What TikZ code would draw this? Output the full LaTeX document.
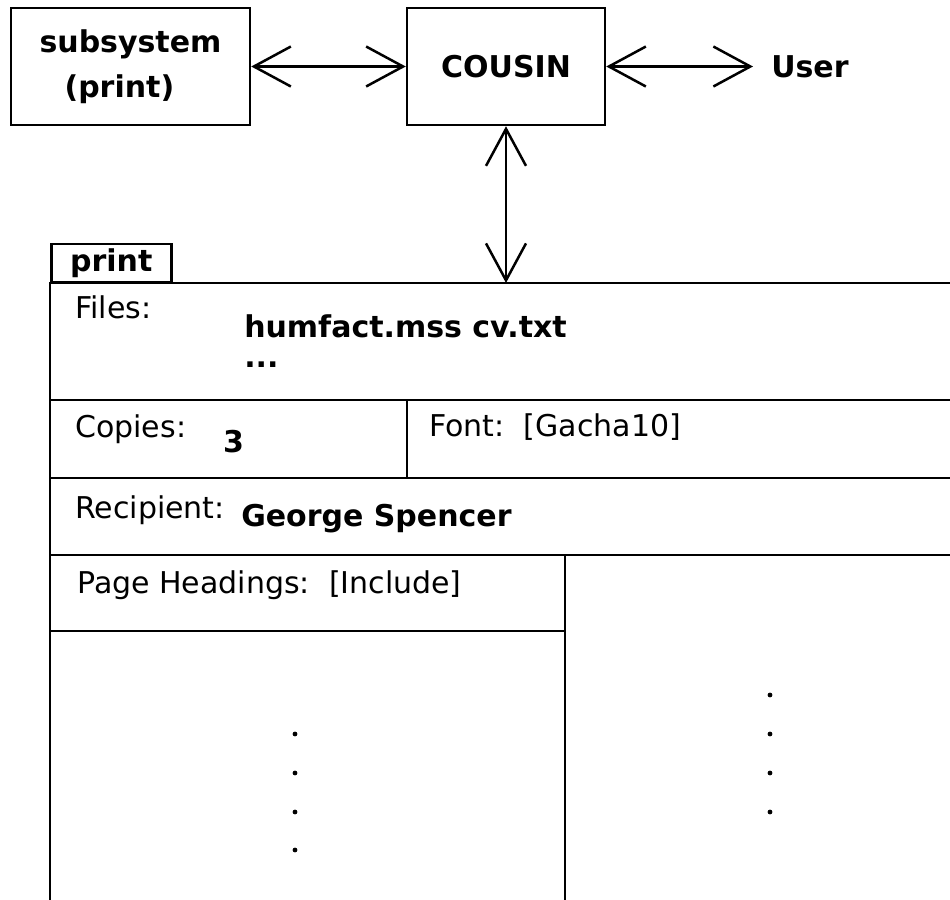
\documentclass[tikz,border=0pt]{standalone}
\usepackage{fontspec}
\setmainfont{DejaVu Sans}
\usetikzlibrary{arrows.meta}

\tikzset{
  fieldname/.style={anchor=base west},
  fieldval/.style={anchor=base west,font=\fontsize{15}{22.5}\selectfont\bfseries},
  topbox/.style={draw,minimum height=58.5pt,font=\fontsize{15}{22.5}\selectfont\bfseries}
}

\begin{document}
\begin{tikzpicture}[x=0.5pt,y=-0.5pt,line width=1.25pt,
  >={Straight Barb[length=18.5pt,width=20pt]},
  every node/.style={inner sep=0pt,font=\fontsize{15}{22.5}\selectfont}]
\useasboundingbox (0,0) rectangle (950,900);

% Top boxes
\node[topbox,minimum width=119.5pt,align=left] (subsys) at (130.5,66.5) {subsystem\\\hspace*{12.5pt}(print)};
\node[topbox,minimum width=99pt] (cousin) at (506,66.5) {COUSIN};
\node[anchor=west,inner xsep=8.5pt,font=\fontsize{15}{22.5}\selectfont\bfseries] (user) at (753,66.5) {User};

% Two-way arrows
\coordinate (formtop) at (506,283);
\draw[<->] (subsys) -- (cousin);
\draw[<->] (cousin) -- (user);
\draw[<->] (cousin.south) -- (formtop);

% Tab
\node[draw,minimum width=60pt,minimum height=19pt,anchor=south west,
  font=\fontsize{15}{22.5}\selectfont\bfseries] (tab) at (50,283) {print};

% Form rules
\draw (50,900) -- (50,283) -- (950,283);
\foreach \y in {400,478,555} {
  \draw (50,\y) -- (950,\y);
}
\draw (50,631) -- (565,631);
\draw (407,400) -- (407,478);
\draw (565,555) -- (565,900);

% Fields
\node[fieldname] (files) at (74,318) {Files:};
\node[fieldval] (filelist) at (243,337) {humfact.mss cv.txt};
\node[fieldval] (filemore) at (243,367) {...};
\node[fieldname] (copies) at (74,437) {Copies:};
\node[fieldval] (copiesval) at (222,452) {3};
\node[fieldname] (font) at (428,436) {Font:\ \ [Gacha10]};
\node[fieldname] (recipient) at (74,518) {Recipient:};
\node[fieldval] (recipientval) at (240,526) {George Spencer};
\node[fieldname] (headings) at (76,593) {Page Headings:\ \ [Include]};

% Continuation dots
\foreach \y in {734,773,812,850} {
  \fill (295,\y) circle (1.2pt);
}
\foreach \y in {695,734,773,812} {
  \fill (770,\y) circle (1.2pt);
}

\end{tikzpicture}
\end{document}
